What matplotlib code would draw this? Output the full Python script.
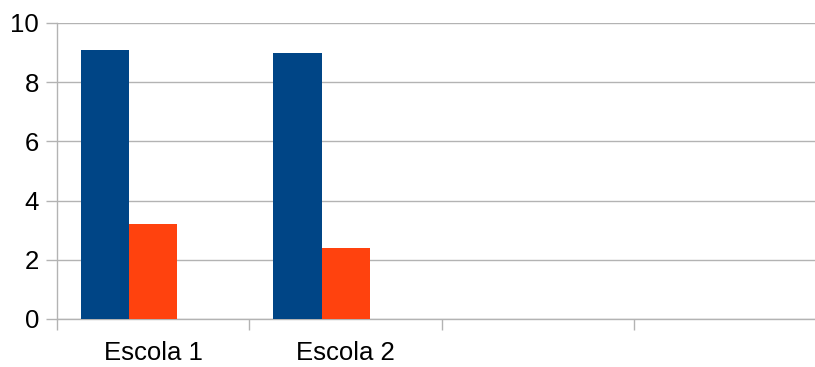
import numpy as np
import matplotlib.pyplot as plt

plt.rcParams['font.family'] = ['Liberation Sans', 'DejaVu Sans']

# chart data
categories = ['Escola 1', 'Escola 2', '', '']
serie_1 = [9.1, 9.0, 0, 0]
serie_2 = [3.2, 2.4, 0, 0]
serie_3 = [0, 0, 0, 0]
yticks = [0, 2, 4, 6, 8, 10]

cores = ['#004586', '#ff420e', '#ffd320']
cinza = '#b3b3b3'

fig = plt.figure(figsize=(8.15, 3.67), dpi=100)
ax = fig.add_axes([57 / 815, 48 / 367, 769.5 / 815, 296 / 367])

x = np.arange(len(categories))
w = 0.25
ax.bar(x - w, serie_1, w, color=cores[0], zorder=3)
ax.bar(x, serie_2, w, color=cores[1], zorder=3)
ax.bar(x + w, serie_3, w, color=cores[2], zorder=3)

ax.set_xlim(-0.5, len(categories) - 0.5)
ax.set_ylim(0, 10)

# grid lines
ax.set_yticks(yticks)
ax.yaxis.grid(True, color=cinza, linewidth=1, zorder=0)
ax.tick_params(axis='y', length=8, width=1, color=cinza, pad=5, labelsize=18.5)

# labels at centres, tick marks on category boundaries
ax.set_xticks(x)
ax.set_xticklabels(categories)
ax.set_xticks(np.arange(len(categories) + 1) - 0.5, minor=True)
ax.tick_params(axis='x', which='major', length=0, pad=16, labelsize=18.5)
ax.tick_params(axis='x', which='minor', length=8, width=1, color=cinza)

for s in ['top', 'right']:
    ax.spines[s].set_visible(False)
for s in ['left', 'bottom']:
    ax.spines[s].set_color(cinza)
    ax.spines[s].set_linewidth(1)

fig.savefig('out.png', dpi=100)
